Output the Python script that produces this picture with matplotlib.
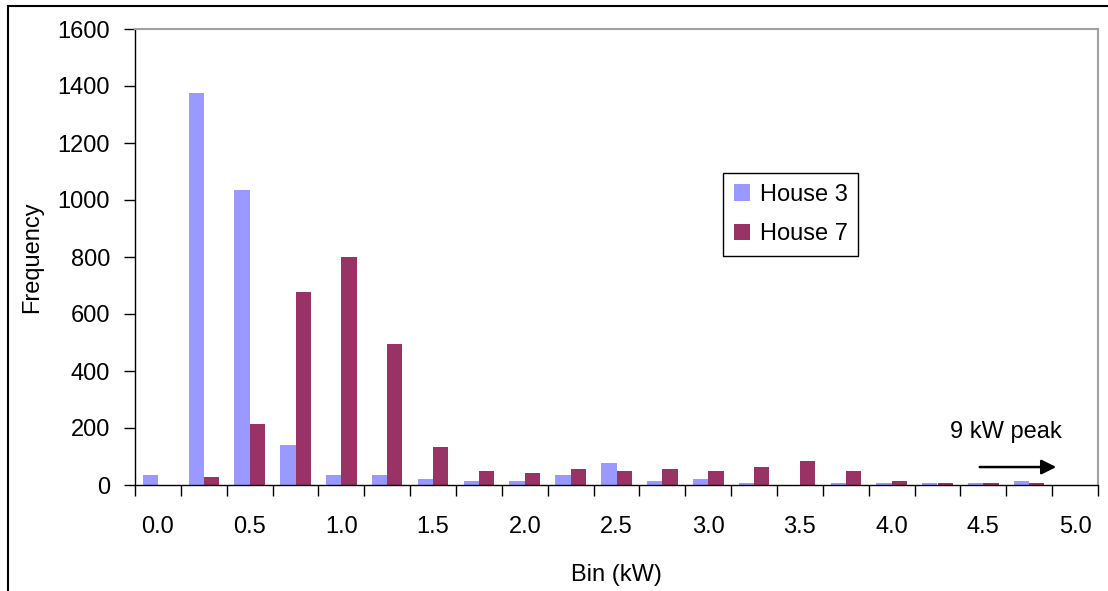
import numpy as np
import matplotlib
matplotlib.use('Agg')
import matplotlib.pyplot as plt
from matplotlib.patches import Rectangle

plt.rcParams['font.family'] = ['Liberation Sans', 'DejaVu Sans']

# datos
bins = ['0.0', '0.25', '0.5', '0.75', '1.0', '1.25', '1.5', '1.75', '2.0', '2.25', '2.5',
        '2.75', '3.0', '3.25', '3.5', '3.75', '4.0', '4.25', '4.5', '4.75', '5.0']
house3 = [35, 1377, 1036, 140, 35, 35, 21, 14, 14, 35, 77,
          14, 21, 7, 0, 7, 7, 7, 7, 14, 0]
house7 = [0, 28, 214, 678, 800, 493, 133, 50, 42, 56, 50,
          56, 50, 63, 85, 50, 14, 7, 7, 7, 0]
etiquetas = ['0.0', '0.5', '1.0', '1.5', '2.0', '2.5', '3.0', '3.5', '4.0', '4.5', '5.0']

fig = plt.figure(figsize=(11.08, 5.91), dpi=100)
ax = fig.add_axes([135/1108, 1-485/591, (1098-135)/1108, (485-29)/591])

x = np.arange(len(bins))
w = 1/3
ax.bar(x - w/2, house3, width=w, color='#9999FF', label='House 3')
ax.bar(x + w/2, house7, width=w, color='#993366', label='House 7')

ax.set_xlim(-0.5, len(bins) - 0.5)
ax.set_ylim(0, 1600)
ax.set_yticks(np.arange(0, 1601, 200))

# marcas en los limites de categoria, etiquetas en los centros pares
ax.set_xticks(np.arange(-0.5, len(bins)), labels=[''] * (len(bins) + 1))
ax.set_xticks(x[::2], labels=etiquetas, minor=True)
ax.tick_params(axis='x', which='major', length=8, width=1, color='black', direction='out')
ax.tick_params(axis='x', which='minor', length=0, pad=22, labelsize=17)
ax.tick_params(axis='y', length=8, width=1, pad=10, labelsize=17)

for lado in ['top', 'right']:
    ax.spines[lado].set_color('#A0A0A0')
    ax.spines[lado].set_linewidth(1.5)
for lado in ['left', 'bottom']:
    ax.spines[lado].set_color('black')
    ax.spines[lado].set_linewidth(1)

ax.set_xlabel('Bin (kW)', fontsize=17, labelpad=19)
ax.set_ylabel('Frequency', fontsize=17, labelpad=10)

ax.annotate('', xy=(19.65, 63), xytext=(17.86, 63),
            arrowprops=dict(arrowstyle='-|>', color='black', lw=1.8, mutation_scale=22))
ax.text(18.5, 185, '9 kW peak', ha='center', va='center', fontsize=17)

leg = fig.legend(loc='upper left', bbox_to_anchor=(723/1108, 1-173/591), fontsize=17,
                 frameon=True, fancybox=False, edgecolor='black', framealpha=1,
                 handlelength=0.7, handleheight=0.7, handletextpad=0.4,
                 borderpad=0.45, labelspacing=0.75, borderaxespad=0)
leg.get_frame().set_linewidth(1)

# borde exterior del grafico
fig.patches.append(Rectangle((8/1108, -0.1), 1.2, 1 - 6/591 + 0.1, transform=fig.transFigure,
                             fill=False, edgecolor='black', linewidth=1.5))

fig.savefig('out.png', dpi=100)
